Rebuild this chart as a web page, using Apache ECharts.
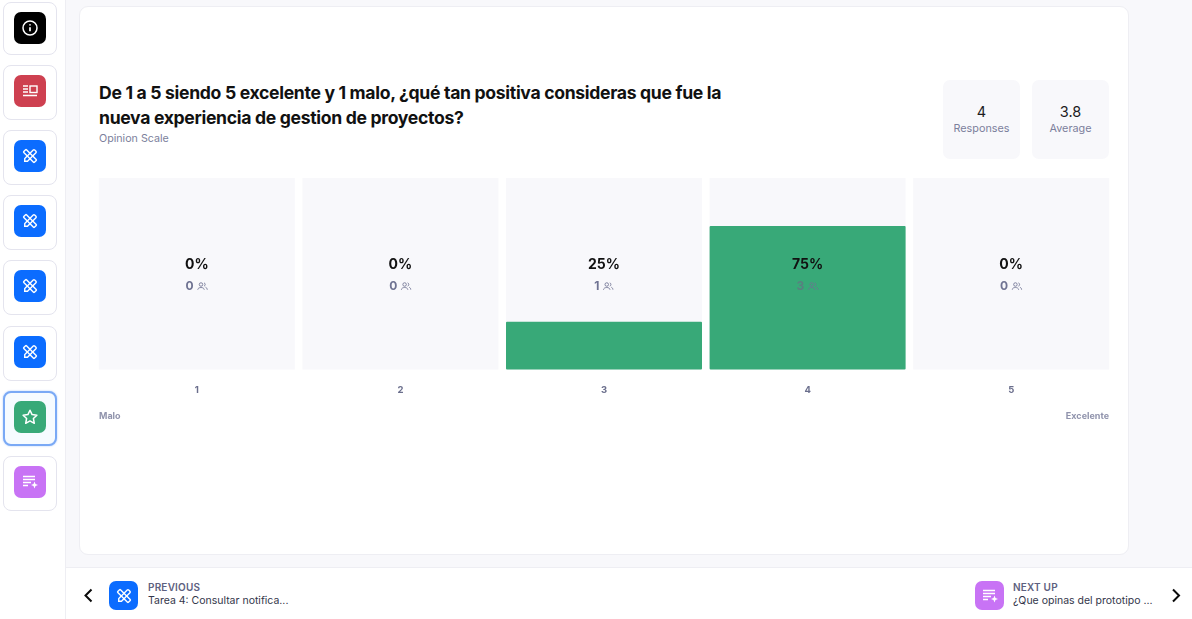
<!DOCTYPE html>
<html lang="es">
<head>
<meta charset="utf-8">
<title>Opinion Scale</title>
<script src="https://cdn.jsdelivr.net/npm/echarts@6/dist/echarts.min.js"></script>
<style>
  html, body { margin: 0; padding: 0; width: 1192px; height: 619px; overflow: hidden; background: #f8f8fb; font-family: Inter, "Noto Sans", sans-serif; }
  .abs { position: absolute; box-sizing: border-box; }
  #side { left: 0; top: 0; width: 66px; height: 619px; background: #fff; border-right: 1px solid #eeeef3; }
  .tile { left: 3px; width: 54px; border: 1.5px solid #e4e4ee; border-radius: 8px; background: #fff; }
  .tile.on { border: 2px solid #7aa9f5; background: #f6fbff; box-shadow: 0 0 2px #a9c8fa; }
  .ico { border-radius: 7px; display: flex; align-items: center; justify-content: center; }
  #card { left: 79px; top: 6px; width: 1050px; height: 549px; background: #fff; border: 1px solid #eeeef3; border-radius: 9px; }
  #foot { left: 66px; top: 567px; width: 1126px; height: 52px; background: #fff; border-top: 1px solid #eeeef3; }
  #title { left: 99px; top: 80px; width: 660px; font-size: 17.6px; line-height: 25px; font-weight: 700; color: #111; letter-spacing: -0.32px; white-space: nowrap; }
  #sub { left: 99px; top: 131px; font-size: 10.7px; line-height: 15px; color: #7c7f9c; }
  .stat { top: 80px; width: 77px; height: 79px; background: #f8f8fb; border-radius: 7px; text-align: center; }
  .stat b { display: block; font-weight: 400; font-size: 14.5px; line-height: 18px; color: #1c1c22; margin-top: 23px; }
  .stat span { display: block; font-size: 10.8px; line-height: 16px; color: #7c7f9c; margin-top: 0; }
  #chart { left: 90px; top: 170px; width: 1030px; height: 262px; }
  .cap { font-size: 10px; line-height: 13px; font-weight: 600; color: #5d6180; letter-spacing: .2px; }
  .nav { font-size: 10.5px; line-height: 14px; color: #33364a; white-space: nowrap; }
</style>
</head>
<body>
<div class="abs" id="side"></div>
<div class="abs" id="card"></div>
<div class="abs" id="foot"></div>

<div class="abs" id="title">De 1 a 5 siendo 5 excelente y 1 malo, ¿qué tan positiva consideras que fue la<br>nueva experiencia de gestion de proyectos?</div>
<div class="abs" id="sub">Opinion Scale</div>
<div class="abs stat" style="left:943px"><b>4</b><span>Responses</span></div>
<div class="abs stat" style="left:1032px"><b>3.8</b><span>Average</span></div>

<div class="abs" id="chart"></div>

<div class="abs" id="prevIco" style="left:109px;top:581px"></div>
<div class="abs cap" style="left:148px;top:581px">PREVIOUS</div>
<div class="abs nav" style="left:148px;top:594px">Tarea 4: Consultar notifica...</div>
<div class="abs" id="nextIco" style="left:975px;top:581px"></div>
<div class="abs cap" style="left:1013px;top:581px">NEXT UP</div>
<div class="abs nav" style="left:1013px;top:594px">¿Que opinas del prototipo ...</div>
<svg class="abs" style="left:82px;top:588px" width="12" height="15" viewBox="0 0 12 15"><path d="M9.5 1.5 3.5 7.5l6 6" fill="none" stroke="#0a0a0a" stroke-width="2"/></svg>
<svg class="abs" style="left:1170px;top:588px" width="12" height="15" viewBox="0 0 12 15"><path d="M3 1.5l6 6-6 6" fill="none" stroke="#0a0a0a" stroke-width="2"/></svg>

<script>
// Survey answers for the opinion-scale question
const scaleLabels = ['1', '2', '3', '4', '5'];
const sharePercent = [0, 0, 25, 75, 0];
const responseCounts = [0, 0, 1, 3, 0];
const scaleEnds = ['Malo', 'Excelente'];

// Sidebar block types, top to bottom
const sideBlocks = ['info', 'news', 'tool', 'tool', 'tool', 'tool', 'star', 'form'];
const sideTops = [2, 65, 130, 195, 260, 326, 391, 456];

const glyphs = {
  info: '<circle cx="10" cy="10" r="7" fill="none" stroke="#fff" stroke-width="1.5"/><path d="M10 9.2v4M10 6.2v1.4" stroke="#fff" stroke-width="1.7"/>',
  news: '<path d="M3 5h5M3 8h5M3 11h5M3 14.5h14" stroke="#fff" stroke-width="1.4" fill="none"/><rect x="10" y="5" width="7" height="6.5" fill="none" stroke="#fff" stroke-width="1.4"/>',
  tool: '<g fill="none" stroke="#fff" stroke-width="1.4"><rect x="-7.5" y="-1.9" width="15" height="3.8" rx=".6" transform="translate(10 10) rotate(45)"/><path d="M-7.5 0 -5.5 -1.9H6.5a1 1 0 0 1 1 1V.9a1 1 0 0 1-1 1H-5.5z" transform="translate(10 10) rotate(-45)"/></g>',
  star: '<path d="M10 3.2l2.1 4.4 4.8.6-3.5 3.3.9 4.8-4.3-2.4-4.3 2.4.9-4.8-3.5-3.3 4.8-.6z" fill="none" stroke="#fff" stroke-width="1.5" stroke-linejoin="round"/>',
  form: '<path d="M3 4.5h12M3 7.5h12M3 10.5h8M3 13.5h5" stroke="#fff" stroke-width="1.4"/><path d="M14.5 9.5l1 2.5 2.5 1-2.5 1-1 2.5-1-2.5-2.5-1 2.5-1z" fill="#fff"/>'
};
const tints = { info: '#000000', news: '#ce4050', tool: '#0b6cff', star: '#38a978', form: '#c873f5' };

function iconHtml(kind, size) {
  return '<div class="ico" style="width:' + size + 'px;height:' + size + 'px;background:' + tints[kind] + '">' +
    '<svg width="20" height="20" viewBox="0 0 20 20">' + glyphs[kind] + '</svg></div>';
}

sideBlocks.forEach(function (kind, i) {
  const tile = document.createElement('div');
  tile.className = 'abs tile' + (kind === 'star' ? ' on' : '');
  tile.style.top = sideTops[i] + 'px';
  tile.style.height = (i === 0 ? 53 : 55) + 'px';
  document.body.appendChild(tile);
  const ico = document.createElement('div');
  ico.className = 'abs';
  ico.style.left = '14px';
  ico.style.top = (sideTops[i] + 10) + 'px';
  ico.innerHTML = iconHtml(kind, 32);
  document.body.appendChild(ico);
});
document.getElementById('prevIco').innerHTML = iconHtml('tool', 29);
document.getElementById('nextIco').innerHTML = iconHtml('form', 29);

// Small "people" glyph that follows each response count
const peopleSvg = 'data:image/svg+xml;utf8,' + encodeURIComponent(
  '<svg xmlns="http://www.w3.org/2000/svg" width="22" height="18" viewBox="0 0 22 18">' +
  '<g fill="none" stroke="#6f7392" stroke-width="1.7"><circle cx="8" cy="5.5" r="3.5"/><path d="M1.5 16c0-6 13-6 13 0"/>' +
  '<path d="M14 2.2a3.5 3.5 0 0 1 0 6.6M17 11c2 .8 3.5 2.4 3.5 5"/></g></svg>');

const chart = echarts.init(document.getElementById('chart'));
chart.setOption({
  animation: false,
  grid: { left: 5, right: 7, top: 8, height: 191.5 },
  xAxis: {
    type: 'category',
    data: scaleLabels,
    axisLine: { show: false },
    axisTick: { show: false },
    axisLabel: { margin: 16, fontFamily: 'Inter', fontSize: 9.5, fontWeight: 700, color: '#6a6e8c' }
  },
  yAxis: { type: 'value', min: 0, max: 100, show: false },
  series: [
    {
      type: 'bar',
      data: sharePercent,
      barWidth: 196,
      showBackground: true,
      backgroundStyle: { color: '#f8f8fb' },
      itemStyle: { color: '#38a978', borderRadius: [1, 1, 1, 1] }
    },
    {
      // Transparent full-height bars carrying the centred percent and count labels
      type: 'bar',
      data: sharePercent.map(function () { return 100; }),
      barWidth: 196,
      barGap: '-100%',
      itemStyle: { color: 'transparent' },
      label: {
        show: true,
        position: 'inside',
        offset: [0, 2],
        formatter: function (p) {
          const i = p.dataIndex;
          const mute = sharePercent[i] > 50 ? 'cntDark' : 'cnt';
          return '{pct|' + sharePercent[i] + '%}\n{' + mute + '|' + responseCounts[i] + '} {ppl|}';
        },
        rich: {
          pct: { fontFamily: 'Inter', fontSize: 14, fontWeight: 700, color: '#111', lineHeight: 21, align: 'center' },
          cnt: { fontFamily: 'Inter', fontSize: 12, fontWeight: 700, color: '#6f7392', lineHeight: 21 },
          cntDark: { fontFamily: 'Inter', fontSize: 12, fontWeight: 700, color: '#5a7f80', lineHeight: 21 },
          ppl: { width: 11, height: 9, backgroundColor: { image: peopleSvg } }
        }
      }
    }
  ],
  graphic: [
    { type: 'text', left: 9, top: 242, style: { text: scaleEnds[0], fontFamily: 'Inter', fontSize: 9, fontWeight: 700, fill: '#9093ac' } },
    { type: 'text', right: 11, top: 242, style: { text: scaleEnds[1], fontFamily: 'Inter', fontSize: 9, fontWeight: 700, fill: '#9093ac' } }
  ]
});
</script>
</body>
</html>
